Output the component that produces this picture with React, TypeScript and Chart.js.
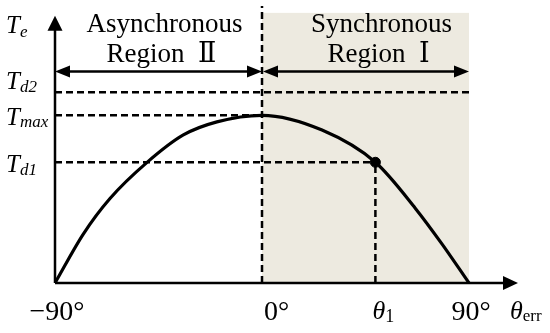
import React, { useEffect, useRef } from "react";
import { Chart, registerables } from "chart.js";

Chart.register(...registerables);

// Curve Te(θerr) (Te normalised to Tmax = 1)
const curveTheta = [-90, -77.7, -66.1, -50.1, -34.2, -19.6, 0, 26.1, 49.3, 66.7, 78.3, 90];
const curveTe = [0, 0.292, 0.504, 0.718, 0.883, 0.961, 1.0, 0.912, 0.72, 0.445, 0.232, 0];

// Level values
const Tmax = 1.0;
const Td1 = 0.72;
const Td2 = 1.138;
const theta1 = 49.3;
const arrowLevel = 1.261;
const yArrowTip = 1.594;
const shadeTop = 1.611;

const xMin = -90;
const xMax = 111.3;
const yMax = 1.652;

const xTickValues = [-90, 0, 90];
const xTickLabels = ["−90°", "0°", "90°"];
const regionLabels = [
  ["Asynchronous", "Region  Ⅱ"],
  ["Synchronous", "Region  Ⅰ"],
];

const SERIF = '"Liberation Serif", "DejaVu Serif", serif';

export default function App() {
  const ref = useRef<HTMLCanvasElement>(null);

  useEffect(() => {
    const canvas = ref.current!;

    const drawSub = (
      ctx: CanvasRenderingContext2D,
      main: string,
      sub: string,
      x: number,
      base: number,
      mainFont: string,
      subFont: string,
      subDy: number
    ) => {
      ctx.font = mainFont;
      ctx.textAlign = "left";
      ctx.textBaseline = "alphabetic";
      ctx.fillText(main, x, base);
      const w = ctx.measureText(main).width;
      ctx.font = subFont;
      ctx.fillText(sub, x + w, base + subDy);
    };

    const arrowHead = (
      ctx: CanvasRenderingContext2D,
      tx: number,
      ty: number,
      dir: "left" | "right" | "up",
      len: number,
      half: number
    ) => {
      ctx.beginPath();
      if (dir === "left") {
        ctx.moveTo(tx, ty);
        ctx.lineTo(tx + len, ty - half);
        ctx.lineTo(tx + len, ty + half);
      } else if (dir === "right") {
        ctx.moveTo(tx, ty);
        ctx.lineTo(tx - len, ty - half);
        ctx.lineTo(tx - len, ty + half);
      } else {
        ctx.moveTo(tx, ty);
        ctx.lineTo(tx - half, ty + len);
        ctx.lineTo(tx + half, ty + len);
      }
      ctx.closePath();
      ctx.fill();
    };

    const decor = {
      id: "decor",
      beforeDatasetsDraw(chart: any) {
        const { ctx, scales } = chart;
        const x = scales.x, y = scales.y;
        ctx.save();
        ctx.fillStyle = "#edeae0";
        const l = x.getPixelForValue(0), r = x.getPixelForValue(90);
        const t = y.getPixelForValue(shadeTop), b = y.getPixelForValue(0);
        ctx.fillRect(l, t, r - l, b - t);
        ctx.restore();
      },
      afterDatasetsDraw(chart: any) {
        const { ctx, scales } = chart;
        const x = scales.x, y = scales.y;
        ctx.save();
        ctx.strokeStyle = "#000";
        ctx.fillStyle = "#000";
        ctx.lineWidth = 2.5;
        ctx.setLineDash([]);

        const x0 = x.getPixelForValue(-90);
        const y0 = y.getPixelForValue(0);
        // y axis
        const yt = y.getPixelForValue(yArrowTip);
        ctx.beginPath();
        ctx.moveTo(x0, y0);
        ctx.lineTo(x0, yt + 10);
        ctx.stroke();
        arrowHead(ctx, x0, yt, "up", 15, 7.5);
        // x axis
        const xt = x.getPixelForValue(xMax);
        ctx.beginPath();
        ctx.moveTo(x0, y0);
        ctx.lineTo(xt - 10, y0);
        ctx.stroke();
        arrowHead(ctx, xt, y0, "right", 15, 7);

        // region double arrows
        const ya = y.getPixelForValue(arrowLevel);
        const xz = x.getPixelForValue(0);
        const x90 = x.getPixelForValue(90);
        const spans = [
          [x0, xz],
          [xz + 1, x90],
        ];
        ctx.lineWidth = 2.5;
        for (const [a, b] of spans) {
          ctx.beginPath();
          ctx.moveTo(a + 8, ya);
          ctx.lineTo(b - 8, ya);
          ctx.stroke();
          arrowHead(ctx, a, ya, "left", 15, 6);
          arrowHead(ctx, b, ya, "right", 15, 6);
        }

        // region labels
        ctx.font = `27px ${SERIF}`;
        ctx.textAlign = "center";
        ctx.textBaseline = "alphabetic";
        const centers = [x.getPixelForValue(-45) + 6, x.getPixelForValue(45) + 16];
        regionLabels.forEach((lines, i) => {
          ctx.fillText(lines[0], centers[i], y.getPixelForValue(arrowLevel) - 40);
          ctx.fillText(lines[1], centers[i] - 3, y.getPixelForValue(arrowLevel) - 10);
        });

        // y labels
        const mainF = `italic 25px ${SERIF}`;
        const subF = `italic 17px ${SERIF}`;
        drawSub(ctx, "T", "e", 6, 33, mainF, subF, 4);
        drawSub(ctx, "T", "d2", 6, y.getPixelForValue(Td2) - 3, mainF, subF, 3);
        drawSub(ctx, "T", "max", 6, y.getPixelForValue(Tmax) + 10, mainF, subF, 2);
        drawSub(ctx, "T", "d1", 6, y.getPixelForValue(Td1) + 10, mainF, subF, 3);

        // x tick labels
        ctx.font = `28px ${SERIF}`;
        ctx.textBaseline = "alphabetic";
        xTickValues.forEach((v, i) => {
          const px = x.getPixelForValue(v);
          if (v === 0) {
            ctx.textAlign = "left";
            ctx.fillText(xTickLabels[i], px + 2, y0 + 37);
          } else {
            ctx.textAlign = "center";
            ctx.fillText(xTickLabels[i], px + 2, y0 + 37);
          }
        });
        drawSub(ctx, "θ", "1", x.getPixelForValue(theta1) - 3, y0 + 36, `italic 26px ${SERIF}`, `18px ${SERIF}`, 3);
        drawSub(ctx, "θ", "err", x.getPixelForValue(xMax) - 8, y0 + 36, `italic 26px ${SERIF}`, `17px ${SERIF}`, 2);

        ctx.restore();
      },
    };

    const dash = [7, 4];
    const guide = (pts: { x: number; y: number }[]) => ({
      type: "line" as const,
      data: pts,
      borderColor: "#000",
      borderWidth: 2.5,
      borderDash: dash,
      pointRadius: 0,
      fill: false,
      tension: 0,
    });

    const chart = new Chart(canvas, {
      type: "line",
      data: {
        datasets: [
          {
            data: curveTheta.map((t, i) => ({ x: t, y: curveTe[i] })),
            borderColor: "#000",
            borderWidth: 3.2,
            pointRadius: 0,
            fill: false,
            cubicInterpolationMode: "monotone",
          } as any,
          {
            data: [{ x: theta1, y: Td1 }],
            showLine: false,
            pointRadius: 5,
            pointBackgroundColor: "#000",
            pointBorderColor: "#000",
          } as any,
          guide([{ x: -90, y: Td2 }, { x: 90, y: Td2 }]),
          guide([{ x: -90, y: Tmax }, { x: 0, y: Tmax }]),
          guide([{ x: -90, y: Td1 }, { x: theta1, y: Td1 }]),
          guide([{ x: 0, y: 0 }, { x: 0, y: yMax }]),
          guide([{ x: theta1, y: 0 }, { x: theta1, y: Td1 }]),
        ],
      },
      options: {
        responsive: false,
        animation: false,
        layout: { padding: { left: 55, right: 32, top: 0, bottom: 50 } },
        plugins: { legend: { display: false }, tooltip: { enabled: false } },
        scales: {
          x: { type: "linear", min: xMin, max: xMax, display: false },
          y: { type: "linear", min: 0, max: yMax, display: false },
        },
      },
      plugins: [decor],
    });

    return () => chart.destroy();
  }, []);

  return (
    <div style={{ position: "fixed", left: 0, top: 0, width: 550, height: 333, background: "#fff" }}>
      <canvas ref={ref} width={550} height={333} style={{ display: "block" }} />
    </div>
  );
}
